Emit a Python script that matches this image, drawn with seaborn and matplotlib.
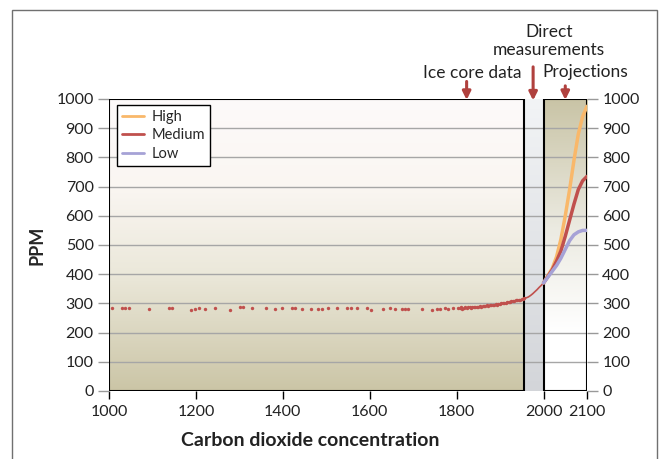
import numpy as np
import pandas as pd
import matplotlib
matplotlib.use('Agg')
import matplotlib.pyplot as plt
import seaborn as sns
from matplotlib.colors import LinearSegmentedColormap
from matplotlib.patches import Rectangle

# Ice core samples (sparse part, 1000-1800)
ice_years = [1006, 1029, 1037, 1047, 1091, 1137, 1144, 1188, 1198, 1206, 1221, 1244,
             1278, 1301, 1309, 1328, 1361, 1382, 1397, 1420, 1428, 1443, 1464, 1482,
             1490, 1505, 1525, 1547, 1558, 1570, 1593, 1602, 1631, 1647, 1658, 1674,
             1681, 1689, 1720, 1743, 1754, 1762, 1773, 1781, 1792, 1804]
ice_ppm = [283, 284, 284, 283, 280, 283, 284, 277, 281, 285, 282, 284,
           279, 286, 286, 285, 283, 282, 285, 285, 283, 282, 281, 281,
           282, 284, 284, 284, 283, 284, 283, 278, 282, 283, 282, 281,
           281, 280, 281, 279, 280, 282, 283, 281, 285, 284]

# Ice core samples (dense part, 1805-1955)
dense_years = [1807, 1810, 1813, 1816, 1820, 1823, 1826, 1830, 1833, 1836, 1840, 1843,
               1846, 1850, 1853, 1856, 1860, 1863, 1866, 1870, 1873, 1876, 1880, 1883,
               1886, 1890, 1893, 1896, 1900, 1903, 1906, 1910, 1913, 1916, 1920, 1923,
               1926, 1930, 1933, 1936, 1940, 1943, 1946, 1950, 1953, 1955]
dense_ppm = [284, 286, 282, 285, 287, 284, 288, 286, 285, 288, 287, 289,
             287, 289, 290, 289, 291, 290, 292, 293, 292, 294, 295, 294,
             296, 297, 296, 298, 299, 300, 300, 302, 302, 304, 305, 305,
             307, 308, 308, 310, 311, 312, 313, 315, 316, 318]

# Direct measurements
meas_years = [1955, 1960, 1965, 1970, 1975, 1980, 1985, 1990, 1995, 2000]
meas_ppm = [318, 319, 322, 327, 333, 340, 347, 355, 362, 370]

# Projections
proj_years = [2000, 2010, 2020, 2030, 2040, 2050, 2060, 2070, 2080, 2090, 2100]
high_ppm = [370, 395, 420, 460, 520, 600, 690, 790, 880, 940, 975]
medium_ppm = [370, 392, 415, 445, 480, 530, 585, 640, 690, 720, 735]
low_ppm = [370, 390, 410, 430, 455, 485, 515, 535, 545, 550, 550]

x_ticks = [1000, 1200, 1400, 1600, 1800, 2000, 2100]
y_ticks = list(range(0, 1001, 100))

sns.set_theme(style='white')
plt.rcParams['font.family'] = ['Lato', 'DejaVu Sans']

fig = plt.figure(figsize=(6.6, 4.59), dpi=100)
ax = fig.add_axes([109 / 660, 68 / 459, 478 / 660, 292 / 459])

# panel backgrounds (row 0 of the gradient sits at the top)
grad = np.linspace(0, 1, 256).reshape(-1, 1)
ice_cmap = LinearSegmentedColormap.from_list(
    'ice', [(0, '#fdfafa'), (0.3, '#faf6f2'), (0.6, '#ebe8da'), (1, '#cbc5a6')])
ax.imshow(grad, extent=[1000, 1955, 0, 1000], cmap=ice_cmap, aspect='auto', zorder=0)
proj_cmap = LinearSegmentedColormap.from_list(
    'proj', [(0, '#c9c4a6'), (0.45, '#ecebe2'), (0.8, '#ffffff'), (1, '#ffffff')])
ax.imshow(grad, extent=[2000, 2100, 0, 1000], cmap=proj_cmap, aspect='auto', zorder=0)
band_cmap = LinearSegmentedColormap.from_list('band', ['#f2f4f6', '#d3d5d9'])
ax.imshow(grad, extent=[1955, 2000, 0, 1000], cmap=band_cmap, aspect='auto', zorder=0)

# grid
for y in y_ticks[1:-1]:
    ax.axhline(y, color='#a6a6a6', lw=1, zorder=1)

# panel frames
ax.add_patch(Rectangle((1000, 0), 955, 1000, fill=False, ec='black', lw=1.5, zorder=3))
ax.add_patch(Rectangle((2000, 0), 100, 1000, fill=False, ec='black', lw=1.5, zorder=3))

# data
sns.scatterplot(x=ice_years + dense_years, y=ice_ppm + dense_ppm, ax=ax,
                color='#c0504d', s=6, linewidth=0, zorder=4)
sns.lineplot(x=meas_years, y=meas_ppm, ax=ax, color='#c0504d', lw=1.2, zorder=4)

proj = pd.DataFrame({
    'year': proj_years * 3,
    'ppm': high_ppm + medium_ppm + low_ppm,
    'scenario': ['High'] * len(proj_years) + ['Medium'] * len(proj_years) + ['Low'] * len(proj_years),
})
palette = {'High': '#f9b86a', 'Medium': '#c0504d', 'Low': '#a6a2d6'}
sns.lineplot(data=proj, x='year', y='ppm', hue='scenario', hue_order=['High', 'Medium', 'Low'],
             palette=palette, lw=2.5, ax=ax, zorder=5)

leg = ax.legend(loc='upper left', bbox_to_anchor=(0.017, 0.98), borderaxespad=0,
                frameon=True, fancybox=False, framealpha=1, edgecolor='black',
                fontsize=10.5, handlelength=1.5, handletextpad=0.5, labelspacing=0.3,
                borderpad=0.35)
leg.get_frame().set_linewidth(1)
leg.set_zorder(6)
for h in leg.get_lines():
    h.set_linewidth(2)

ax.set_xlim(1000, 2100)
ax.set_ylim(0, 1000)
ax.set_xticks(x_ticks)
ax.set_yticks(y_ticks)
for s in ax.spines.values():
    s.set_visible(False)
ax.tick_params(axis='x', bottom=True, direction='out', length=6, width=1, color='black',
               labelsize=11.5, labelcolor='#222222', pad=4)
ax.tick_params(axis='y', left=True, right=True, labelleft=True, labelright=True,
               direction='out', length=8, width=1, color='#999999',
               labelsize=11.5, labelcolor='#222222', pad=3)
ax.set_xlabel('')
ax.set_ylabel('PPM', fontsize=13, fontweight='bold', labelpad=8)
fig.text(310 / 660, 1 - 440 / 459, 'Carbon dioxide concentration', ha='center', va='center',
         fontsize=14, fontweight='bold', color='#222222')

# annotations
arrow = dict(arrowstyle='-|>', color='#b0413e', lw=2.2, mutation_scale=12, shrinkA=0, shrinkB=0)
ax.annotate('', xy=(1823, 997), xytext=(1823, 1060), arrowprops=arrow, annotation_clip=False)
ax.annotate('', xy=(1976, 995), xytext=(1976, 1110), arrowprops=arrow, annotation_clip=False)
ax.annotate('', xy=(2050, 997), xytext=(2050, 1045), arrowprops=arrow, annotation_clip=False)
ax.text(1836, 1088, 'Ice core data', ha='center', va='center', fontsize=12.5, color='#222222')
ax.text(2012, 1230, 'Direct', ha='center', va='center', fontsize=12.5, color='#222222')
ax.text(2012, 1168, 'measurements', ha='center', va='center', fontsize=12.5, color='#222222')
ax.text(2095, 1091, 'Projections', ha='center', va='center', fontsize=12.5, color='#222222')

# outer frame
fig.add_artist(Rectangle((12 / 660, -0.05), (657 - 12) / 660, 1.05 - 10 / 459,
                         transform=fig.transFigure, fill=False, ec='#707070', lw=1))

fig.savefig('out.png', dpi=100)
